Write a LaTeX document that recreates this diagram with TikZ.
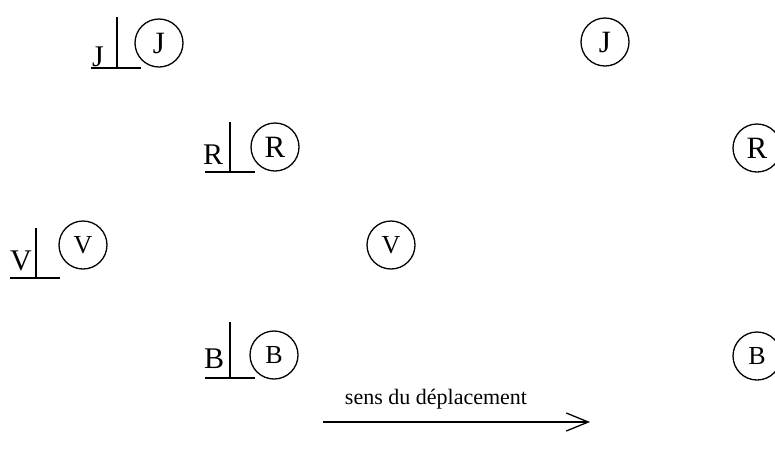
\documentclass[tikz,border=0pt]{standalone}
\usepackage{fontspec}
\setmainfont{Liberation Serif}
\usetikzlibrary{arrows.meta}
\tikzset{
  ball/.style={draw, circle, line width=1.3pt, minimum size=48pt, inner sep=0pt, font=\fontsize{31}{31}\selectfont},
  smallball/.style={ball, font=\fontsize{26}{26}\selectfont},
  tag/.style={anchor=base west, inner sep=0pt, font=\fontsize{30}{30}\selectfont},
  post/.style={line width=1.3pt},
}
\begin{document}
\begin{tikzpicture}[x=1pt, y=-1pt]
\useasboundingbox (0,0) rectangle (775,459);

% first row: J
\node[tag] (lJ) at (92,66) {J};
\coordinate (jTop) at (117,17);
\coordinate (jFoot) at (117,68);
\coordinate (jL) at (91,68);
\coordinate (jR) at (141,68);
\draw[post] (jTop) -- (jFoot);
\draw[post] (jL) -- (jR);
\node[ball] (J1) at (159,43) {J};
\node[ball] (J2) at (605,42) {J};

% second row: R
\node[tag] (lR) at (203,164) {R};
\coordinate (rTop) at (230,122);
\coordinate (rFoot) at (230,172);
\coordinate (rL) at (205,172);
\coordinate (rR) at (255,172);
\draw[post] (rTop) -- (rFoot);
\draw[post] (rL) -- (rR);
\node[ball] (R1) at (275,147) {R};
\node[ball] (R2) at (757,148) {R};

% third row: V
\node[tag] (lV) at (10,270) {V};
\coordinate (vTop) at (36,228);
\coordinate (vFoot) at (36,278);
\coordinate (vL) at (10,278);
\coordinate (vR) at (60,278);
\draw[post] (vTop) -- (vFoot);
\draw[post] (vL) -- (vR);
\node[smallball] (V1) at (83,245) {V};
\node[smallball] (V2) at (391,245) {V};

% fourth row: B
\node[tag] (lB) at (204,368) {B};
\coordinate (bTop) at (230,322);
\coordinate (bFoot) at (230,378);
\coordinate (bL) at (205,378);
\coordinate (bR) at (255,378);
\draw[post] (bTop) -- (bFoot);
\draw[post] (bL) -- (bR);
\node[smallball] (B1) at (274,355) {B};
\node[smallball] (B2) at (757,356) {B};

% direction of motion
\node[font=\fontsize{22}{22}\selectfont] (sens) at (436,399) {sens du déplacement};
\coordinate (aStart) at (323,422);
\coordinate (aEnd) at (590,422);
\draw[line width=1.3pt, -{Straight Barb[length=22pt,width=18pt,line width=1.3pt]}] (aStart) -- (aEnd);
\end{tikzpicture}
\end{document}
